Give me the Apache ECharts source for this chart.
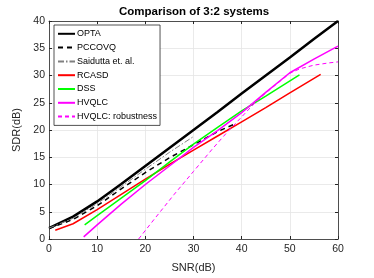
<!DOCTYPE html>
<html>
<head>
<meta charset="utf-8">
<script src="https://cdn.jsdelivr.net/npm/echarts@6/dist/echarts.min.js"></script>
<style>
html,body{margin:0;padding:0;background:#fff;}
#c{width:374px;height:278px;}
</style>
</head>
<body>
<div id="c"></div>
<script>
// ---- data ----
const xTicks = [0, 10, 20, 30, 40, 50, 60];
const yTicks = [0, 5, 10, 15, 20, 25, 30, 35, 40];

const optaX = [0, 5, 10, 15, 20, 25, 30, 35, 40, 45, 50, 55, 60];
const optaY = [2.0, 4.1, 6.9, 10.1, 13.4, 16.7, 20.0, 23.3, 26.7, 30.0, 33.3, 36.7, 40.0];

const pccovqX = [0, 5, 10, 15, 20, 25, 30, 35, 38.8];
const pccovqY = [1.9, 3.6, 6.1, 9.2, 12.2, 14.9, 17.3, 19.7, 21.2];

const saidX = [0, 5, 10, 15, 20, 25, 30];
const saidY = [2.0, 3.8, 6.5, 9.6, 12.8, 15.9, 18.8];

const rcasdX = [1.3, 5, 10, 15, 20, 25, 30, 35, 40, 45, 50, 56.4];
const rcasdY = [1.6, 2.8, 5.4, 8.2, 11.0, 13.7, 16.3, 18.9, 21.5, 24.1, 26.8, 30.2];

const dssX = [7.4, 10, 15, 20, 25, 30, 35, 40, 45, 52];
const dssY = [2.6, 4.3, 7.5, 10.7, 14.1, 17.4, 20.5, 23.5, 26.2, 30.1];

const hvqlcX = [7.2, 10, 15, 20, 25, 30, 35, 40, 45, 50, 55, 60];
const hvqlcY = [0.4, 2.6, 6.4, 10.0, 13.4, 16.8, 19.9, 23.2, 26.9, 30.5, 33.0, 35.4];

const robX = [18.6, 22, 26, 30, 34, 37, 40, 42, 45, 50, 52, 55, 58, 60];
const robY = [0, 3.8, 8.2, 12.4, 16.6, 19.6, 22.4, 24.3, 26.8, 30.4, 31.2, 31.9, 32.3, 32.5];

const names = ['OPTA', 'PCCOVQ', 'Saidutta et. al.', 'RCASD', 'DSS', 'HVQLC', 'HVQLC: robustness'];

function pairs(xs, ys) { return xs.map((x, i) => [x, ys[i]]); }

const FONT = '"Liberation Sans", Arial, sans-serif';
const AX = '#262626';

const chart = echarts.init(document.getElementById('c'), null, {renderer: 'canvas'});

function mk(name, xs, ys, color, width, type) {
  return {
    name: name, type: 'line', data: pairs(xs, ys), symbol: 'none',
    smooth: false, animation: false,
    lineStyle: {color: color, width: width, type: type || 'solid'},
    itemStyle: {color: color}
  };
}

chart.setOption({
  animation: false,
  backgroundColor: '#fff',
  title: {
    text: 'Comparison of 3:2 systems', left: 119, top: 6, padding: 0,
    textStyle: {fontFamily: FONT, fontSize: 11.5, fontWeight: 'bold', color: '#000'}
  },
  grid: {left: 49, right: 36, top: 21, bottom: 32, show: false},
  legend: {
    data: names, orient: 'vertical', left: 54, top: 25,
    itemWidth: 17, itemHeight: 12, itemGap: 4.2,
    padding: [4, 3, 4, 3],
    backgroundColor: '#fff', borderColor: '#262626', borderWidth: 0.8,
    itemStyle: {opacity: 0, borderWidth: 0},
    textStyle: {fontFamily: FONT, fontSize: 9, color: '#000', padding: [0, 0, 0, -3]},
    selectedMode: false
  },
  xAxis: [{
    type: 'value', min: 0, max: 60, interval: 10, position: 'bottom',
    name: 'SNR(dB)', nameLocation: 'middle', nameGap: 23,
    nameTextStyle: {fontFamily: FONT, fontSize: 11, color: AX},
    axisLine: {show: true, onZero: false, lineStyle: {color: AX, width: 0.8}},
    axisTick: {show: true, inside: true, length: 3, lineStyle: {color: AX}},
    axisLabel: {fontFamily: FONT, fontSize: 10.5, color: AX, margin: 5,
      formatter: v => xTicks.includes(v) ? String(v) : ''},
    splitLine: {show: true, lineStyle: {color: '#e5e5e5', width: 0.8}}
  }, {
    type: 'value', min: 0, max: 60, interval: 10, position: 'top',
    axisLine: {show: true, onZero: false, lineStyle: {color: AX, width: 0.8}},
    axisTick: {show: true, inside: true, length: 3, lineStyle: {color: AX}},
    axisLabel: {show: false}, splitLine: {show: false}
  }],
  yAxis: [{
    type: 'value', min: 0, max: 40, interval: 5, position: 'left',
    name: 'SDR(dB)', nameLocation: 'middle', nameGap: 23, nameRotate: 90,
    nameTextStyle: {fontFamily: FONT, fontSize: 11, color: AX},
    axisLine: {show: true, onZero: false, lineStyle: {color: AX, width: 0.8}},
    axisTick: {show: true, inside: true, length: 3, lineStyle: {color: AX}},
    axisLabel: {fontFamily: FONT, fontSize: 10.5, color: AX, margin: 4,
      formatter: v => yTicks.includes(v) ? String(v) : ''},
    splitLine: {show: true, lineStyle: {color: '#e5e5e5', width: 0.8}}
  }, {
    type: 'value', min: 0, max: 40, interval: 5, position: 'right',
    axisLine: {show: true, onZero: false, lineStyle: {color: AX, width: 0.8}},
    axisTick: {show: true, inside: true, length: 3, lineStyle: {color: AX}},
    axisLabel: {show: false}, splitLine: {show: false}
  }],
  series: [
    mk(names[0], optaX, optaY, '#000000', 2.5),
    mk(names[1], pccovqX, pccovqY, '#000000', 1.5, [5, 4]),
    mk(names[2], saidX, saidY, '#808080', 1, [6, 2, 1.5, 2]),
    mk(names[3], rcasdX, rcasdY, '#ff0000', 1.5),
    mk(names[4], dssX, dssY, '#00ff00', 1.5),
    mk(names[5], hvqlcX, hvqlcY, '#ff00ff', 1.5),
    mk(names[6], robX, robY, '#ff00ff', 1, [4, 3])
  ]
});
</script>
</body>
</html>
